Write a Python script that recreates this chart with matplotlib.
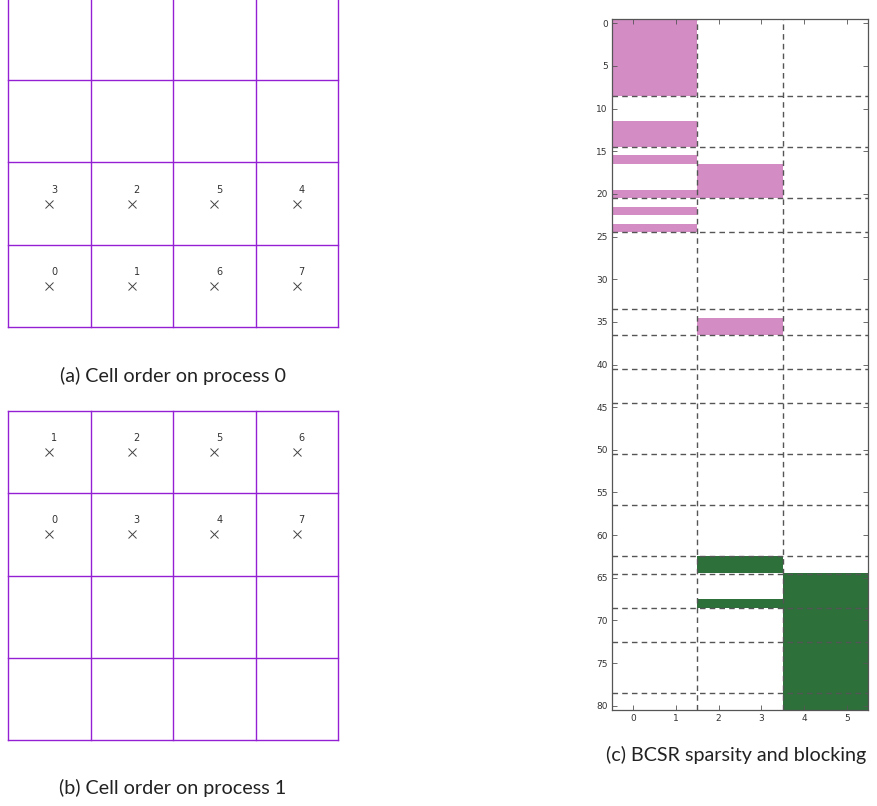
import numpy as np
import matplotlib
matplotlib.use('Agg')
import matplotlib.pyplot as plt
from matplotlib.colors import ListedColormap

# cell numbering on the 4x4 grid, (column, row) -> label, row 0 at bottom
p0_cells = [(0, 1, '3'), (1, 1, '2'), (2, 1, '5'), (3, 1, '4'),
            (0, 0, '0'), (1, 0, '1'), (2, 0, '6'), (3, 0, '7')]
p1_cells = [(0, 3, '1'), (1, 3, '2'), (2, 3, '5'), (3, 3, '6'),
            (0, 2, '0'), (1, 2, '3'), (2, 2, '4'), (3, 2, '7')]

# sparsity blocks: (first row, last row, first col, last col)
n_rows, n_cols = 81, 6
pink_blocks = [(0, 8, 0, 1), (12, 14, 0, 1), (16, 16, 0, 1), (20, 20, 0, 1),
               (22, 22, 0, 1), (24, 24, 0, 1), (17, 20, 2, 3), (35, 36, 2, 3)]
green_blocks = [(63, 64, 2, 3), (68, 68, 2, 3), (65, 80, 4, 5)]

# block boundaries
row_breaks = [8.5, 14.5, 20.5, 24.5, 33.5, 36.5, 40.5, 44.5, 50.5, 56.5,
              62.5, 64.5, 68.5, 72.5, 78.5]
col_breaks = [1.5, 3.5]

W, H = 877, 806
fig = plt.figure(figsize=(W / 100, H / 100), dpi=100)
cap_font = ['Lato', 'DejaVu Sans']


def grid_panel(top_px, cells):
    ax = fig.add_axes([8 / W, 1 - (top_px + 329) / H, 330 / W, 329 / H])
    ax.set_xlim(0, 4)
    ax.set_ylim(0, 4)
    ax.axis('off')
    for k in range(5):
        ax.plot([k, k], [0, 4], color='#9420d4', lw=1.0, clip_on=False)
        ax.plot([0, 4], [k, k], color='#9420d4', lw=1.0, clip_on=False)
    for cx, cy, lab in cells:
        ax.plot(cx + 0.5, cy + 0.5, marker='x', color='#444444', ms=6, mew=0.7)
        ax.annotate(lab, (cx + 0.5, cy + 0.5), xytext=(3.6, 10), textcoords='offset points',
                    ha='center', va='center', fontsize=7, color='#333333')
    return ax


grid_panel(-2, p0_cells)
grid_panel(411, p1_cells)

fig.text(173 / W, 1 - 376 / H, '(a) Cell order on process 0', ha='center', va='center',
         fontsize=14.2, family=cap_font, color='#222222')
fig.text(173 / W, 1 - 788 / H, '(b) Cell order on process 1', ha='center', va='center',
         fontsize=14.2, family=cap_font, color='#222222')

# BCSR panel
mat = np.zeros((n_rows, n_cols))
for r0, r1, c0, c1 in pink_blocks:
    mat[r0:r1 + 1, c0:c1 + 1] = 1
for r0, r1, c0, c1 in green_blocks:
    mat[r0:r1 + 1, c0:c1 + 1] = 2

axc = fig.add_axes([612 / W, 1 - 710 / H, 256 / W, 691 / H])
cmap = ListedColormap(['white', '#d38cc4', '#2d703a'])
axc.imshow(mat, cmap=cmap, vmin=0, vmax=2, aspect='auto', interpolation='nearest')
for y in row_breaks:
    axc.axhline(y, color='#555555', lw=1, ls=(0, (4, 3)))
for x in col_breaks:
    axc.axvline(x, color='#555555', lw=1, ls=(0, (4, 3)))
axc.set_xlim(-0.5, 5.5)
axc.set_ylim(80.5, -0.5)
axc.set_xticks(range(6))
axc.set_yticks(range(0, 81, 5))
axc.tick_params(direction='in', length=3.5, width=0.6, labelsize=6.5, labelcolor='#333333',
                color='#555555', top=True, right=True, pad=3)
for s in axc.spines.values():
    s.set_color('#555555')
    s.set_linewidth(0.9)

fig.text(736 / W, 1 - 755 / H, '(c) BCSR sparsity and blocking', ha='center', va='center',
         fontsize=14.2, family=cap_font, color='#222222')

fig.savefig('out.png', dpi=100, facecolor='white')
